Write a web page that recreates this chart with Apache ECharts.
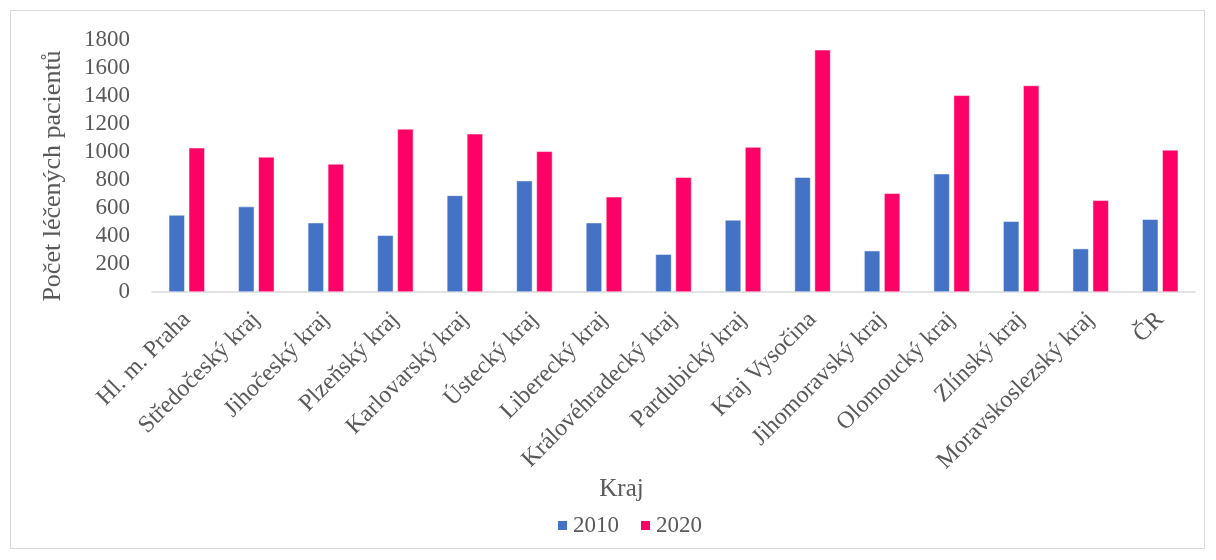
<!DOCTYPE html>
<html>
<head>
<meta charset="utf-8">
<script src="https://cdn.jsdelivr.net/npm/echarts@6/dist/echarts.min.js"></script>
<style>
  html, body { margin: 0; padding: 0; background: #fff; }
  #frame { position: absolute; left: 10px; top: 10px; width: 1195px; height: 539px; border: 1px solid #d9d9d9; box-sizing: border-box; }
  #chart { position: absolute; left: 0; top: 0; width: 1216px; height: 560px; }
</style>
</head>
<body>
<div id="frame"></div>
<div id="chart"></div>
<script>
const regions = [
  "Hl. m. Praha", "Středočeský kraj", "Jihočeský kraj", "Plzeňský kraj",
  "Karlovarský kraj", "Ústecký kraj", "Liberecký kraj", "Královéhradecký kraj",
  "Pardubický kraj", "Kraj Vysočina", "Jihomoravský kraj", "Olomoucký kraj",
  "Zlínský kraj", "Moravskoslezský kraj", "ČR"
];
const values2010 = [550, 610, 495, 405, 690, 795, 495, 270, 515, 820, 295, 845, 505, 310, 520];
const values2020 = [1030, 965, 915, 1165, 1130, 1005, 680, 820, 1035, 1730, 705, 1405, 1475, 655, 1015];

const font = "Liberation Serif";
const textColor = "#595959";

const chart = echarts.init(document.getElementById("chart"));

chart.setOption({
  backgroundColor: "transparent",
  textStyle: { fontFamily: font },
  grid: {
    top: 40,
    left: 152,
    right: 21,
    bottom: 268,
  },
  legend: {
    data: ["2010", "2020"],
    bottom: 18,
    left: 551,
    itemWidth: 11,
    itemHeight: 11,
    itemGap: 20,
    icon: "rect",
    textStyle: { fontFamily: font, fontSize: 23, color: textColor },
  },
  xAxis: {
    type: "category",
    data: regions,
    name: "Kraj",
    nameLocation: "middle",
    nameGap: 180,
    nameTextStyle: { fontFamily: font, fontSize: 25, color: textColor, padding: [0, 104, 0, 0] },
    axisLine: { lineStyle: { color: "#d9d9d9", width: 1.5 } },
    axisTick: { show: false },
    axisLabel: {
      interval: 0,
      rotate: 45,
      margin: 24,
      fontFamily: font,
      fontSize: 24,
      color: textColor,
    },
  },
  yAxis: {
    type: "value",
    min: 0,
    max: 1800,
    interval: 200,
    name: "Počet léčených pacientů",
    nameLocation: "middle",
    nameGap: 86,
    nameTextStyle: { fontFamily: font, fontSize: 26, color: textColor, padding: [0, 20, 0, 0] },
    axisLine: { show: false },
    axisTick: { show: false },
    splitLine: { show: false },
    axisLabel: {
      fontFamily: font,
      fontSize: 23,
      color: textColor,
      margin: 22,
      formatter: (v) => String(v),
    },
  },
  series: [
    {
      name: "2010",
      type: "bar",
      data: values2010,
      barWidth: 16,
      barGap: "25%",
      itemStyle: { color: "#4472c4", borderColor: "#ffffff", borderWidth: 0.5 },
    },
    {
      name: "2020",
      type: "bar",
      data: values2020,
      barWidth: 16,
      barGap: "25%",
      itemStyle: { color: "#ff0066", borderColor: "#ffffff", borderWidth: 0.5 },
    },
  ],
});
</script>
</body>
</html>
